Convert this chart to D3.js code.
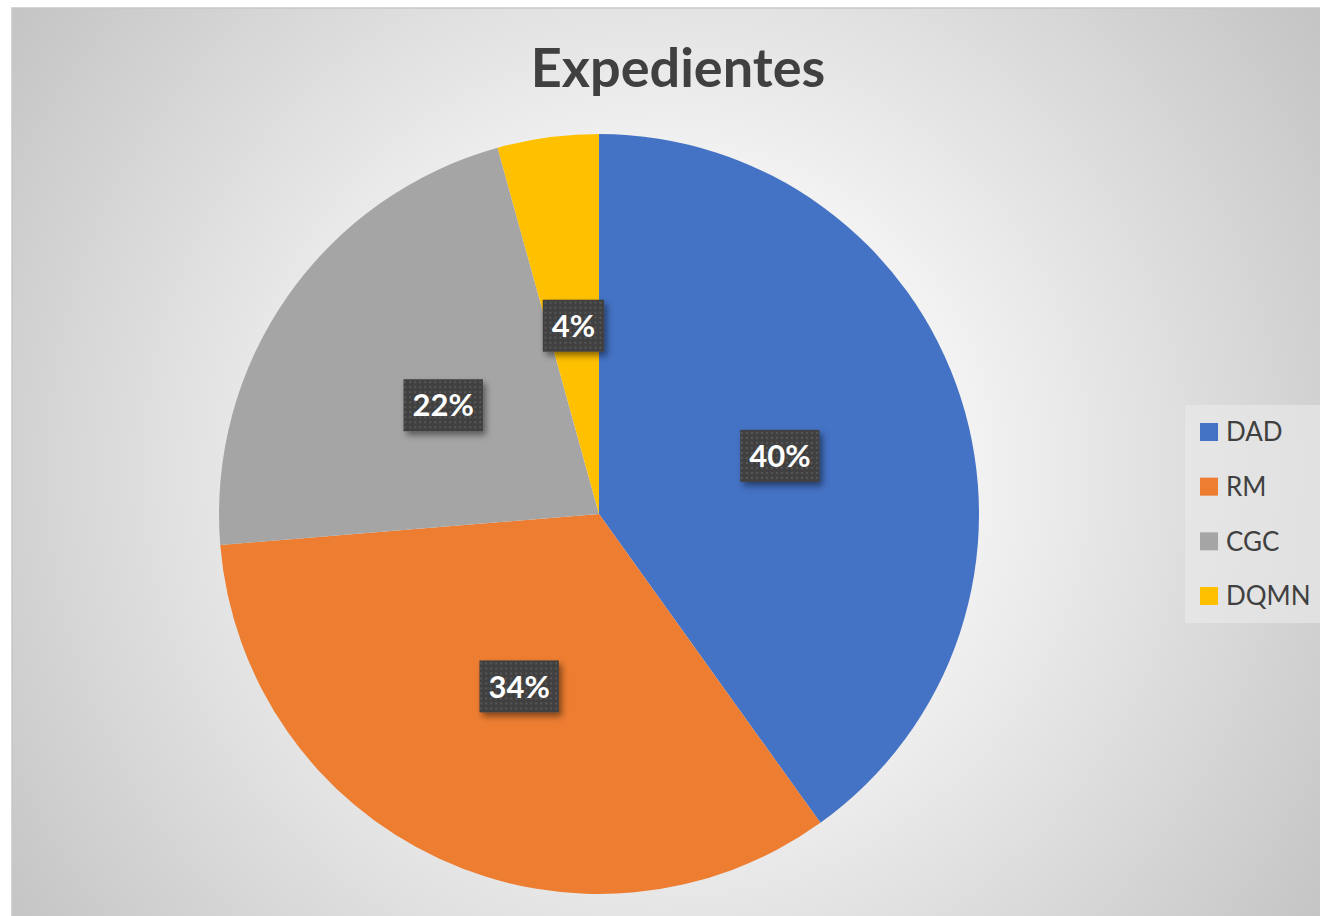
<!DOCTYPE html>
<html>
<head>
  <title>Expedientes</title>
  <script src="https://d3js.org/d3.v7.min.js"></script>
  <style>
    body { margin: 0; background: #fff; }
    .title { font-family: Lato, "Open Sans", sans-serif; font-weight: bold; fill: #404040; }
    .label { font-family: Lato, "Open Sans", sans-serif; font-weight: bold; fill: #fff; }
    .legend text { font-family: Lato, "Open Sans", sans-serif; fill: #404040; }
  </style>
</head>
<body>
  <svg width="1320" height="916"></svg>

  <script>
    const categories = ['DAD', 'RM', 'CGC', 'DQMN'];
    const values = [40.1, 33.6, 22.0, 4.3];
    const percentLabels = ['40%', '34%', '22%', '4%'];
    const colors = ['#4472c4', '#ed7d31', '#a5a5a5', '#ffc000'];

    const svg = d3.select('svg');
    const defs = svg.append('defs');

    // chart-area background: radial grey gradient
    const bg = defs.append('radialGradient')
      .attr('id', 'bg')
      .attr('gradientUnits', 'userSpaceOnUse')
      .attr('cx', 665).attr('cy', 470).attr('r', 820);
    bg.append('stop').attr('offset', '0%').attr('stop-color', '#ffffff');
    bg.append('stop').attr('offset', '35%').attr('stop-color', '#f4f4f4');
    bg.append('stop').attr('offset', '100%').attr('stop-color', '#c2c2c2');

    // dotted texture for the data-label boxes
    const pat = defs.append('pattern')
      .attr('id', 'dots')
      .attr('patternUnits', 'userSpaceOnUse')
      .attr('width', 5).attr('height', 5);
    pat.append('rect').attr('width', 5).attr('height', 5).attr('fill', '#404040');
    pat.append('rect').attr('x', 1).attr('y', 1).attr('width', 2).attr('height', 2).attr('fill', '#575757');

    const shadow = defs.append('filter').attr('id', 'shadow')
      .attr('x', '-20%').attr('y', '-20%').attr('width', '150%').attr('height', '160%');
    shadow.append('feDropShadow')
      .attr('dx', 3).attr('dy', 4).attr('stdDeviation', 3)
      .attr('flood-color', '#000').attr('flood-opacity', 0.45);

    svg.append('rect')
      .attr('x', 12).attr('y', 8)
      .attr('width', 1320).attr('height', 916)
      .attr('fill', 'url(#bg)')
      .attr('stroke', '#c8c8c8').attr('stroke-width', 1.5);

    svg.append('text')
      .attr('class', 'title')
      .attr('x', 678).attr('y', 87)
      .attr('text-anchor', 'middle')
      .attr('font-size', 54)
      .text('Expedientes');

    const cx = 599, cy = 514, radius = 380;

    const pie = d3.pie().sort(null).value(d => d);
    const arcs = pie(values);
    const arc = d3.arc().innerRadius(0).outerRadius(radius);

    const g = svg.append('g').attr('transform', `translate(${cx},${cy})`);

    g.selectAll('path')
      .data(arcs)
      .enter().append('path')
      .attr('d', arc)
      .attr('fill', (d, i) => colors[i]);

    const labels = g.selectAll('g.lbl')
      .data(arcs)
      .enter().append('g')
      .attr('class', 'lbl')
      .attr('transform', d => `translate(${arc.centroid(d)})`);

    labels.each(function(d, i) {
      const sel = d3.select(this);
      const t = sel.append('text')
        .attr('class', 'label')
        .attr('font-size', 31)
        .attr('text-anchor', 'middle')
        .attr('dy', '0.36em')
        .text(percentLabels[i]);
      const bb = t.node().getBBox();
      sel.insert('rect', 'text')
        .attr('x', -bb.width / 2 - 9)
        .attr('y', -26)
        .attr('width', bb.width + 18)
        .attr('height', 52)
        .attr('fill', 'url(#dots)')
        .attr('filter', 'url(#shadow)');
    });

    // legend
    const legend = svg.append('g').attr('class', 'legend');
    legend.append('rect')
      .attr('x', 1185).attr('y', 405)
      .attr('width', 135).attr('height', 218)
      .attr('fill', '#ebebeb').attr('opacity', 0.6);

    const ly = d3.scalePoint().domain(categories).range([432, 596]);

    const item = legend.selectAll('g.item')
      .data(categories)
      .enter().append('g')
      .attr('class', 'item')
      .attr('transform', d => `translate(1200,${ly(d)})`);

    item.append('rect')
      .attr('x', 0).attr('y', -9)
      .attr('width', 18).attr('height', 18)
      .attr('fill', (d, i) => colors[i]);

    item.append('text')
      .attr('x', 26).attr('dy', '0.36em')
      .attr('font-size', 26)
      .text(d => d);
  </script>
</body>
</html>
